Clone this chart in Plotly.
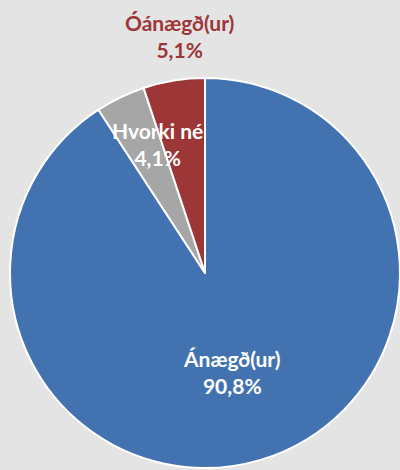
import plotly.graph_objects as go

labels = ["Ánægð(ur)", "Hvorki né", "Óánægð(ur)"]
values = [90.8, 4.1, 5.1]
colors = ["#4273b0", "#a6a6a6", "#9d3636"]

W, H = 400, 470
BG = "#e4e4e4"
# pie geometry in pixels
cx, cy, R = 205, 273, 195

fig = go.Figure(go.Pie(
    labels=labels,
    values=values,
    sort=False,
    direction="clockwise",
    rotation=0,
    marker=dict(colors=colors, line=dict(color="white", width=2)),
    textinfo="none",
    hoverinfo="label+percent",
    showlegend=False,
    domain=dict(x=[(cx - R) / W, min(1, (cx + R) / W)],
                y=[(H - (cy + R)) / H, (H - (cy - R)) / H]),
))

def fmt(v):
    return f"{v:.1f}".replace(".", ",") + "%"

# label anchor positions (pixels) and font colors
label_pos = [(232, 372), (157, 144), (179, 36)]
label_col = ["white", "white", "#9d3636"]
for lab, v, (px, py), col in zip(labels, values, label_pos, label_col):
    fig.add_annotation(
        x=px / W, y=1 - py / H, xref="paper", yref="paper",
        text=f"<b>{lab}</b><br><b>{fmt(v)}</b>",
        showarrow=False, xanchor="center", yanchor="middle",
        font=dict(family="Lato", size=21, color=col),
        align="center",
    )

fig.update_layout(
    width=W, height=H,
    margin=dict(l=0, r=0, t=0, b=0),
    paper_bgcolor=BG,
    plot_bgcolor=BG,
)

fig.write_html(
    "out.html",
    config={"displayModeBar": False},
    post_script=(
        "document.body.style.margin='0';"
        "document.body.style.overflow='hidden';"
        f"document.body.style.background='{BG}';"
    ),
)
